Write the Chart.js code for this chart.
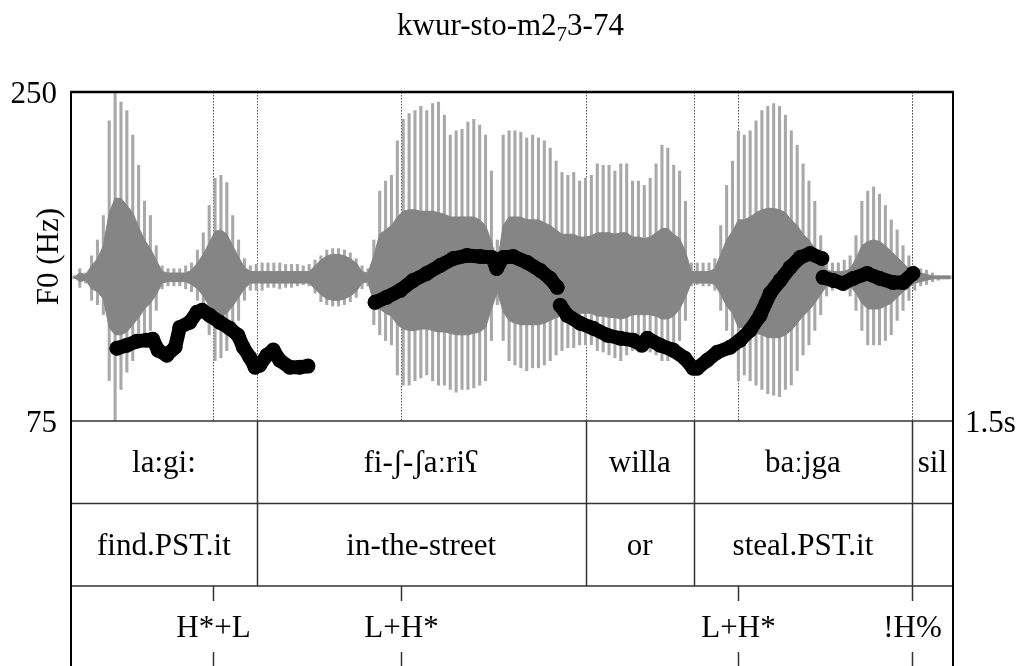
<!DOCTYPE html>
<html>
<head>
<meta charset="utf-8">
<title>kwur-sto-m273-74</title>
<script src="https://cdn.jsdelivr.net/npm/chart.js@4.4.1/dist/chart.umd.min.js"></script>
<style>
  html, body { margin: 0; padding: 0; background: #fff; }
  canvas { display: block; }
</style>
</head>
<body>
<canvas id="pitchChart" width="1021" height="666"></canvas>
<script>
// Sound envelope, one value per 10 ms frame (relative amplitude)
const FRAME = 0.01;
const waveTop = [
  0.01,0.06,0.03,0.15,0.26,0.43,1.09,1.29,1.22,1.16,
  0.99,0.78,0.53,0.43,0.22,0.08,0.06,0.06,0.06,0.08,
  0.10,0.19,0.31,0.50,0.69,0.71,0.66,0.43,0.26,0.13,
  0.08,0.09,0.10,0.10,0.10,0.10,0.09,0.09,0.09,0.08,
  0.09,0.12,0.15,0.19,0.20,0.20,0.19,0.17,0.13,0.08,
  0.06,0.26,0.60,0.67,0.71,0.95,1.10,1.14,1.16,1.19,
  1.16,1.21,1.22,1.13,0.99,1.02,1.03,1.08,1.10,1.06,
  0.99,0.74,0.26,0.99,1.02,1.02,1.01,0.97,0.99,0.97,
  0.95,0.90,0.81,0.73,0.71,0.73,0.67,0.69,0.71,0.79,
  0.78,0.78,0.74,0.79,0.79,0.67,0.67,0.64,0.69,0.79,
  0.92,0.90,0.78,0.74,0.53,0.10,0.10,0.10,0.10,0.13,
  0.36,0.64,0.81,1.02,0.99,1.02,1.09,1.16,1.19,1.21,
  1.19,1.13,1.02,0.92,0.79,0.67,0.53,0.29,0.12,0.10,
  0.10,0.12,0.15,0.29,0.53,0.60,0.63,0.58,0.50,0.40,
  0.33,0.22,0.15,0.08,0.06,0.05,0.03,0.01,0.01,0.01
];
const waveBottom = [
  -0.01,-0.07,-0.04,-0.16,-0.19,-0.26,-0.72,-1.00,-0.78,-0.66,
  -0.58,-0.47,-0.40,-0.37,-0.23,-0.08,-0.06,-0.06,-0.06,-0.08,
  -0.10,-0.16,-0.26,-0.40,-0.58,-0.56,-0.51,-0.40,-0.30,-0.16,
  -0.09,-0.09,-0.09,-0.07,-0.07,-0.08,-0.07,-0.07,-0.06,-0.05,
  -0.06,-0.11,-0.17,-0.19,-0.20,-0.20,-0.19,-0.17,-0.14,-0.08,
  -0.06,-0.33,-0.40,-0.44,-0.47,-0.68,-0.75,-0.75,-0.72,-0.70,
  -0.68,-0.72,-0.75,-0.75,-0.78,-0.80,-0.78,-0.78,-0.77,-0.75,
  -0.72,-0.44,-0.19,-0.44,-0.58,-0.61,-0.63,-0.65,-0.63,-0.63,
  -0.61,-0.58,-0.54,-0.51,-0.49,-0.49,-0.47,-0.47,-0.47,-0.51,
  -0.52,-0.54,-0.56,-0.58,-0.54,-0.51,-0.52,-0.51,-0.52,-0.54,
  -0.58,-0.58,-0.54,-0.44,-0.30,-0.06,-0.05,-0.06,-0.06,-0.09,
  -0.23,-0.37,-0.47,-0.72,-0.68,-0.72,-0.75,-0.78,-0.81,-0.82,
  -0.83,-0.78,-0.75,-0.65,-0.54,-0.47,-0.37,-0.26,-0.13,-0.09,
  -0.08,-0.09,-0.13,-0.23,-0.37,-0.47,-0.47,-0.47,-0.44,-0.40,
  -0.30,-0.23,-0.16,-0.09,-0.06,-0.05,-0.03,-0.02,-0.01,-0.01
];
// dense middle part of the waveform
const coreTop = [
  0.00,0.03,0.02,0.08,0.13,0.22,0.45,0.55,0.55,0.50,
  0.45,0.35,0.26,0.20,0.12,0.04,0.03,0.03,0.03,0.03,
  0.05,0.10,0.16,0.24,0.32,0.33,0.30,0.22,0.14,0.07,
  0.04,0.04,0.04,0.04,0.04,0.04,0.04,0.04,0.04,0.04,
  0.04,0.08,0.12,0.15,0.16,0.16,0.15,0.13,0.10,0.04,
  0.03,0.15,0.30,0.33,0.36,0.42,0.46,0.47,0.47,0.46,
  0.46,0.46,0.45,0.44,0.42,0.42,0.42,0.42,0.42,0.40,
  0.36,0.25,0.10,0.36,0.42,0.42,0.42,0.40,0.40,0.40,
  0.38,0.36,0.33,0.30,0.30,0.30,0.28,0.28,0.29,0.31,
  0.31,0.31,0.30,0.31,0.31,0.28,0.28,0.27,0.28,0.31,
  0.34,0.34,0.30,0.27,0.18,0.04,0.04,0.04,0.04,0.06,
  0.16,0.26,0.32,0.40,0.40,0.42,0.45,0.47,0.48,0.48,
  0.47,0.45,0.40,0.36,0.30,0.26,0.20,0.12,0.05,0.04,
  0.04,0.04,0.06,0.13,0.22,0.25,0.26,0.25,0.22,0.18,
  0.14,0.10,0.06,0.03,0.03,0.02,0.01,0.01,0.01,0.01
];
const coreBottom = [
  0.00,-0.03,-0.02,-0.08,-0.10,-0.15,-0.35,-0.40,-0.40,-0.38,
  -0.33,-0.28,-0.22,-0.18,-0.12,-0.04,-0.03,-0.03,-0.03,-0.03,
  -0.05,-0.08,-0.13,-0.20,-0.28,-0.28,-0.25,-0.20,-0.14,-0.08,
  -0.04,-0.04,-0.04,-0.04,-0.04,-0.04,-0.04,-0.04,-0.04,-0.04,
  -0.04,-0.08,-0.12,-0.15,-0.16,-0.16,-0.15,-0.13,-0.10,-0.04,
  -0.03,-0.18,-0.22,-0.25,-0.27,-0.33,-0.36,-0.37,-0.37,-0.36,
  -0.36,-0.37,-0.38,-0.38,-0.39,-0.40,-0.40,-0.40,-0.39,-0.38,
  -0.35,-0.22,-0.10,-0.24,-0.30,-0.32,-0.33,-0.33,-0.33,-0.33,
  -0.32,-0.30,-0.28,-0.27,-0.26,-0.26,-0.25,-0.25,-0.25,-0.27,
  -0.27,-0.28,-0.28,-0.29,-0.28,-0.26,-0.26,-0.26,-0.26,-0.27,
  -0.29,-0.29,-0.27,-0.22,-0.14,-0.04,-0.04,-0.04,-0.04,-0.05,
  -0.12,-0.20,-0.25,-0.35,-0.35,-0.37,-0.39,-0.40,-0.42,-0.42,
  -0.42,-0.40,-0.37,-0.32,-0.27,-0.23,-0.18,-0.12,-0.06,-0.04,
  -0.04,-0.04,-0.06,-0.11,-0.18,-0.22,-0.22,-0.22,-0.20,-0.18,
  -0.14,-0.10,-0.07,-0.04,-0.03,-0.02,-0.01,-0.01,-0.01,-0.01
];

// F0 track (s, Hz); null breaks the contour
const pitchTimes = [
  0.078,0.095,0.112,0.129,0.139,0.148,0.163,0.177,0.185,0.202,0.214,0.223,0.236,
  0.253,0.270,0.284,0.293,0.304,0.313,0.321,0.333,0.344,0.355,0.372,0.389,0.403,
  null,
  0.517,0.537,0.560,0.582,0.605,0.628,0.650,0.673,0.696,0.716,0.724,0.735,0.752,
  0.776,0.798,0.815,0.827,
  null,
  0.832,0.844,0.866,0.888,0.912,0.934,0.956,0.971,0.980,1.002,1.024,1.044,1.058,
  1.065,1.082,1.099,1.121,1.138,1.155,1.172,1.189,1.206,1.223,1.240,1.257,1.277,
  null,
  1.279,1.296,1.313,1.330,1.354,1.376,1.398,1.415,1.432
];
const pitchHz = [
  113.7,115.3,117.4,118.0,118.5,112.7,110.0,114.2,124.8,127.5,132.8,133.9,131.2,
  127.5,124.3,120.6,114.2,108.9,103.6,104.7,110.0,112.7,107.3,103.6,103.6,104.2,
  null,
  138.1,140.8,144.5,149.8,153.5,157.7,161.4,163.0,162.5,162.0,156.1,162.0,162.5,
  159.3,155.1,150.8,146.1,
  null,
  136.5,131.2,127.0,124.3,120.6,119.0,118.0,115.3,119.0,115.3,112.7,108.4,103.1,
  103.1,107.3,111.6,114.2,118.0,123.3,131.2,142.9,149.8,156.7,162.0,164.1,161.4,
  null,
  151.4,149.8,148.2,150.8,153.5,150.8,148.7,148.7,153.5
];

// TextGrid tiers
const wordBounds = [0, 0.316, 0.875, 1.0595, 1.430, 1.5];
const words = ['la:gi:', 'fi-ʃ-ʃaːriʕ', 'willa', 'baːjga', 'sil'];
const glosses = ['find.PST.it', 'in-the-street', 'or', 'steal.PST.it', ''];
const toneTimes = [0.241, 0.561, 1.134, 1.430];
const tones = ['H*+L', 'L+H*', 'L+H*', '!H%'];

const yTicks = [75, 250];
const endTime = 1.5;

const serif = '"Liberation Serif", "Times New Roman", serif';
const TIER_H = 82.5;

const spikeBars = waveTop.map((v, i) => ({ x: (i + 0.5) * FRAME, y: [waveBottom[i], v] }));
const coreTopPts = coreTop.map((v, i) => ({ x: (i + 0.5) * FRAME, y: v }));
const coreBottomPts = coreBottom.map((v, i) => ({ x: (i + 0.5) * FRAME, y: v }));
const pitchPoints = pitchTimes.map((t, i) => ({ x: t, y: pitchHz[i] }));

function line(ctx, x1, y1, x2, y2) {
  ctx.beginPath();
  ctx.moveTo(x1, y1);
  ctx.lineTo(x2, y2);
  ctx.stroke();
}

const praatFrame = {
  id: 'praatFrame',
  beforeDatasetsDraw(chart) {
    const { ctx, chartArea: a, scales: { x } } = chart;
    const marks = wordBounds.slice(1, -1).concat(toneTimes);
    ctx.save();
    ctx.strokeStyle = '#555';
    ctx.lineWidth = 1;
    ctx.setLineDash([1.5, 1.5]);
    marks.forEach(t => {
      const px = Math.round(x.getPixelForValue(t)) + 0.5;
      line(ctx, px, a.top, px, a.bottom);
    });
    ctx.restore();
  },
  afterDraw(chart) {
    const { ctx, chartArea: a, scales: { x, y } } = chart;
    const H = chart.height;
    ctx.save();
    ctx.fillStyle = '#000';

    // title with subscript
    const parts = [['kwur-sto-m2', 31, 0], ['7', 21, 6], ['3-74', 31, 0]];
    let total = 0;
    parts.forEach(p => { ctx.font = p[1] + 'px ' + serif; total += ctx.measureText(p[0]).width; });
    let tx = chart.width / 2 - total / 2;
    ctx.textAlign = 'left';
    ctx.textBaseline = 'alphabetic';
    parts.forEach(p => {
      ctx.font = p[1] + 'px ' + serif;
      ctx.fillText(p[0], tx, 35 + p[2]);
      tx += ctx.measureText(p[0]).width;
    });

    // axis labels
    ctx.font = '31px ' + serif;
    ctx.textAlign = 'right';
    yTicks.forEach(v => ctx.fillText(String(v), a.left - 14, y.getPixelForValue(v) + 11));
    ctx.textAlign = 'left';
    ctx.fillText(endTime + 's', a.right + 12, a.bottom + 11);

    ctx.save();
    ctx.translate(58, (a.top + a.bottom) / 2);
    ctx.rotate(-Math.PI / 2);
    ctx.textAlign = 'center';
    ctx.fillText('F0 (Hz)', 0, 0);
    ctx.restore();

    // tier grid
    const t1 = a.bottom, t2 = t1 + TIER_H, t3 = t2 + TIER_H;
    ctx.strokeStyle = '#333';
    ctx.lineWidth = 1.5;
    [t1, t2, t3].forEach(ty => line(ctx, a.left, ty, a.right, ty));
    wordBounds.slice(1, -1).forEach(t => {
      const px = Math.round(x.getPixelForValue(t)) + 0.5;
      line(ctx, px, t1, px, t3);
    });

    // interval labels
    ctx.textAlign = 'center';
    ctx.font = '31px ' + serif;
    for (let i = 0; i < words.length; i++) {
      const cx = (x.getPixelForValue(wordBounds[i]) + x.getPixelForValue(wordBounds[i + 1])) / 2;
      ctx.fillText(words[i], cx, t1 + TIER_H / 2 + 10);
      if (glosses[i]) ctx.fillText(glosses[i], cx, t2 + TIER_H / 2 + 10);
    }

    // tone points
    toneTimes.forEach((t, i) => {
      const px = Math.round(x.getPixelForValue(t)) + 0.5;
      line(ctx, px, t3, px, t3 + 15);
      line(ctx, px, t3 + 66, px, H);
      ctx.fillText(tones[i], px, t3 + 51);
    });

    // outer frame
    ctx.strokeStyle = '#000';
    ctx.lineWidth = 2.5;
    line(ctx, a.left - 1, a.top, a.right + 1, a.top);
    ctx.lineWidth = 2;
    line(ctx, a.left, a.top, a.left, H);
    line(ctx, a.right, a.top, a.right, H);
    ctx.restore();
  }
};

new Chart(document.getElementById('pitchChart'), {
  type: 'line',
  data: {
    datasets: [
      {
        type: 'line',
        label: 'F0',
        data: pitchPoints,
        yAxisID: 'y',
        borderColor: '#000',
        backgroundColor: '#000',
        borderWidth: 14,
        borderCapStyle: 'round',
        borderJoinStyle: 'round',
        pointRadius: 7.5,
        pointBorderWidth: 0,
        spanGaps: false,
        tension: 0,
        order: 0
      },
      {
        type: 'bar',
        label: 'spikes',
        data: spikeBars,
        yAxisID: 'amp',
        backgroundColor: '#a8a8a8',
        barThickness: 2.4,
        order: 3
      },
      {
        type: 'line',
        label: 'core top',
        data: coreTopPts,
        yAxisID: 'amp',
        borderColor: '#858585',
        borderWidth: 1,
        pointRadius: 0,
        tension: 0,
        fill: false,
        order: 2
      },
      {
        type: 'line',
        label: 'core bottom',
        data: coreBottomPts,
        yAxisID: 'amp',
        borderColor: '#858585',
        backgroundColor: '#858585',
        borderWidth: 1,
        pointRadius: 0,
        tension: 0,
        fill: '-1',
        order: 1
      }
    ]
  },
  options: {
    responsive: false,
    animation: false,
    devicePixelRatio: 1,
    layout: { padding: { left: 71, right: 68, top: 92, bottom: 245 } },
    plugins: {
      legend: { display: false },
      tooltip: { enabled: false },
      title: { display: false }
    },
    scales: {
      x: { type: 'linear', min: 0, max: endTime, display: false, offset: false },
      y: { type: 'linear', min: 75, max: 250, display: false },
      amp: { type: 'linear', min: -1, max: 1.29, display: false }
    }
  },
  plugins: [praatFrame]
});
</script>
</body>
</html>
